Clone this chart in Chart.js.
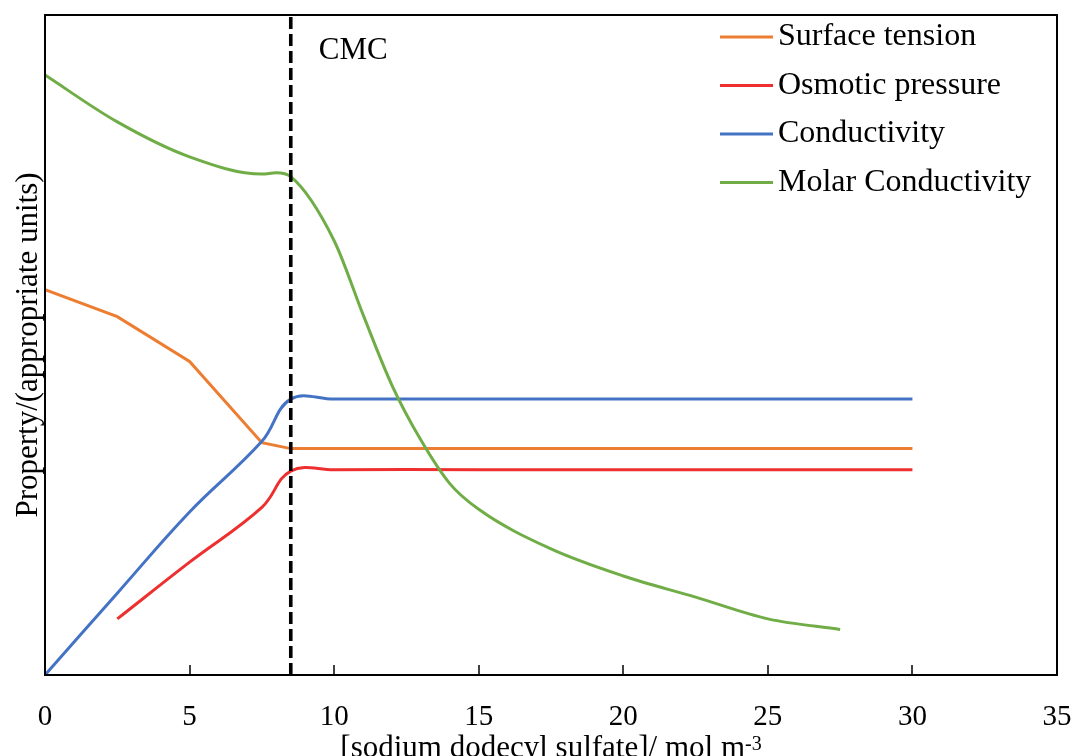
<!DOCTYPE html>
<html><head><meta charset="utf-8">
<script src="https://cdn.jsdelivr.net/npm/chart.js@4.4.0/dist/chart.umd.min.js"></script>
<style>html,body{margin:0;padding:0;background:#fff;}</style>
</head><body>
<canvas id="c" width="1075" height="756"></canvas>
<script>
const FONT = "'Liberation Serif','Times New Roman',Times,serif";

// ---- data (y in arbitrary units 0..100) ----
const xTickValues = [0, 5, 10, 15, 20, 25, 30, 35];
const seriesLabels = ['Surface tension', 'Osmotic pressure', 'Conductivity', 'Molar Conductivity'];

const surfaceTensionX = [0, 2.5, 5, 7.5, 8.5, 10, 15, 20, 25, 30];
const surfaceTension  = [58.4, 54.3, 47.5, 35.2, 34.3, 34.3, 34.3, 34.3, 34.3, 34.3];

const osmoticX = [2.5, 5, 7.5, 8.5, 10, 15, 20, 25, 30];
const osmoticPressure = [8.5, 17.1, 25.4, 30.9, 31.1, 31.1, 31.1, 31.1, 31.1];

const conductivityX = [0, 2.5, 5, 7.5, 8.5, 10, 15, 20, 25, 30];
const conductivity  = [0, 12.4, 24.7, 35.4, 41.8, 41.8, 41.8, 41.8, 41.8, 41.8];

const molarX = [0, 2.5, 5, 7.5, 8, 8.5, 10, 11, 12, 13, 14, 15, 17.5, 20, 22.5, 25, 27.5];
const molarConductivity = [90.9, 83.8, 78.5, 75.9, 76.1, 75.5, 65.8, 54.6, 43.9, 35.6, 29.0, 25.1, 19.1, 15.0, 11.8, 8.5, 6.9];

const cmcValue = 8.5;
const cmcLineY = [0, 100];

// ---- build ----
const pts = (xs, ys) => xs.map((x, i) => ({x: x, y: ys[i]}));
const colors = ['#ED7D31', '#EE2F2F', '#4472C4', '#70AD47'];

const datasets = [
  {label: seriesLabels[0], data: pts(surfaceTensionX, surfaceTension), borderColor: colors[0], tension: 0, order: 4},
  {label: seriesLabels[1], data: pts(osmoticX, osmoticPressure), borderColor: colors[1], tension: 0.4, order: 3},
  {label: seriesLabels[2], data: pts(conductivityX, conductivity), borderColor: colors[2], tension: 0.4, order: 2},
  {label: seriesLabels[3], data: pts(molarX, molarConductivity), borderColor: colors[3], cubicInterpolationMode: 'monotone', order: 1},
  {label: 'CMC', data: pts([cmcValue, cmcValue], cmcLineY), borderColor: '#000', borderWidth: 3.6, borderDash: [12, 5], tension: 0, order: 0, isCmc: true}
].map(d => Object.assign({borderWidth: 3, pointRadius: 0, fill: false, borderCapStyle: 'butt'}, d));

const decorPlugin = {
  id: 'decor',
  afterDraw(chart) {
    const ctx = chart.ctx, a = chart.chartArea, xs = chart.scales.x;
    ctx.save();
    // inner tick marks
    ctx.strokeStyle = '#000'; ctx.lineWidth = 1.5;
    xTickValues.forEach(v => {
      const px = Math.round(xs.getPixelForValue(v));
      ctx.beginPath(); ctx.moveTo(px, a.bottom); ctx.lineTo(px, a.bottom - 10); ctx.stroke();
    });
    // frame
    ctx.lineWidth = 2;
    ctx.strokeRect(a.left, a.top, a.right - a.left, a.bottom - a.top);
    // CMC label
    ctx.fillStyle = '#000';
    ctx.font = '31px ' + FONT;
    ctx.textBaseline = 'alphabetic'; ctx.textAlign = 'left';
    ctx.fillText('CMC', xs.getPixelForValue(cmcValue) + 28, a.top + 44);
    // legend
    const lx = a.right - 337, ly = a.top + 22, step = 48.5;
    chart.data.datasets.filter(d => !d.isCmc).forEach((d, i) => {
      const y = ly + i * step;
      ctx.strokeStyle = d.borderColor; ctx.lineWidth = 3;
      ctx.beginPath(); ctx.moveTo(lx, y); ctx.lineTo(lx + 53, y); ctx.stroke();
      ctx.fillStyle = '#000'; ctx.textBaseline = 'middle';
      ctx.font = '32px ' + FONT;
      ctx.fillText(d.label, lx + 58, y);
    });
    // x axis title with superscript
    const main = '[sodium dodecyl sulfate]/ mol m', sup = '-3';
    ctx.textBaseline = 'alphabetic';
    ctx.font = '31px ' + FONT; const wm = ctx.measureText(main).width;
    ctx.font = '20px ' + FONT; const ws = ctx.measureText(sup).width;
    const cx = (a.left + a.right) / 2, sx = cx - (wm + ws) / 2, base = 757;
    ctx.font = '31px ' + FONT; ctx.fillText(main, sx, base);
    ctx.font = '20px ' + FONT; ctx.fillText(sup, sx + wm, base - 7);
    ctx.restore();
  }
};

new Chart(document.getElementById('c'), {
  type: 'line',
  data: {datasets: datasets},
  plugins: [decorPlugin],
  options: {
    responsive: false, animation: false, devicePixelRatio: 1,
    layout: {padding: {top: 15, right: 18, left: 0, bottom: 0}},
    plugins: {legend: {display: false}, tooltip: {enabled: false}},
    scales: {
      x: {
        type: 'linear', min: 0, max: 35,
        afterBuildTicks: s => { s.ticks = xTickValues.map(v => ({value: v})); },
        afterFit: s => { s.height = 81; s.paddingLeft = 0; s.paddingRight = 0; },
        grid: {display: false, drawTicks: false},
        border: {display: false},
        ticks: {color: '#000', font: {family: FONT, size: 29}, padding: 25, maxRotation: 0, autoSkip: false}
      },
      y: {
        min: 0, max: 100,
        afterFit: s => { s.width = 45; },
        grid: {display: false, drawTicks: false},
        border: {display: false},
        ticks: {display: false},
        title: {display: true, text: 'Property/(appropriate units)', color: '#000',
                font: {family: FONT, size: 31}, padding: {top: 10, bottom: 0}}
      }
    }
  }
});
</script>
</body></html>
